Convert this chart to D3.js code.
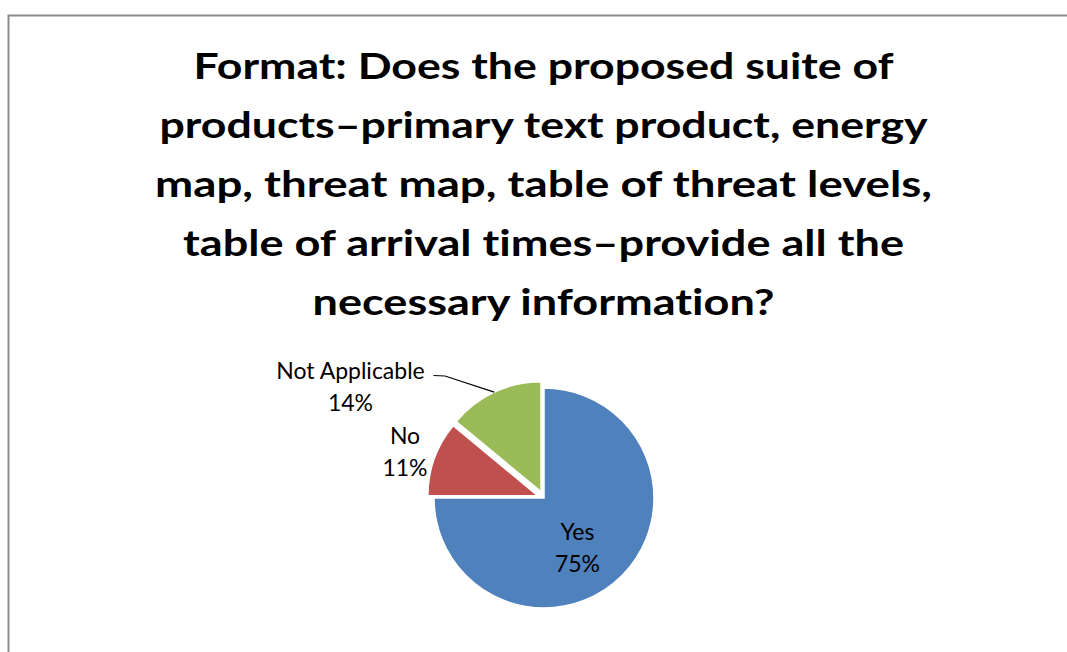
<!DOCTYPE html>
<html>
<head>
<meta charset="utf-8">
<script src="https://cdn.jsdelivr.net/npm/d3@7"></script>
<style>
  html, body { margin: 0; padding: 0; background: #ffffff; }
  svg { display: block; }
  text { font-variant-ligatures: none; }
</style>
</head>
<body>
<svg id="chart" width="1067" height="652"></svg>
<script>
// Survey responses (percent of respondents)
const categories = ["Yes", "No", "Not Applicable"];
const values = [75, 11, 14];
const sliceColors = ["#4F81BD", "#C0504D", "#9BBB59"];
const titleLines = [
  "Format: Does the proposed suite of",
  "products\u2013primary text product, energy",
  "map, threat map, table of threat levels,",
  "table of arrival times\u2013provide all the",
  "necessary information?"
];

const W = 1067, H = 652;
const svg = d3.select("#chart");

// Chart area frame (top and left edges visible)
svg.append("path")
  .attr("d", `M${W},15.5 H8.5 V${H}`)
  .attr("fill", "none")
  .attr("stroke", "#8c8c8c")
  .attr("stroke-width", 2);

// Title
const titleWidths = [700, 768, 777, 721, 462];
const titleG = svg.append("g")
  .attr("font-family", "Lato, 'Open Sans', sans-serif")
  .attr("font-weight", "bold")
  .attr("font-size", 37)
  .attr("fill", "#000");
titleG.selectAll("text")
  .data(titleLines)
  .join("text")
  .attr("x", 543.5)
  .attr("y", (d, i) => 78.5 + i * 59.2)
  .attr("text-anchor", "middle")
  .attr("textLength", (d, i) => titleWidths[i])
  .attr("lengthAdjust", "spacingAndGlyphs")
  .text(d => d);

// Pie
const cx = 544, cy = 498, radius = 110;
const explode = [0, 6.5, 7];

const data = categories.map((c, i) => ({ category: c, value: values[i], color: sliceColors[i], explode: explode[i] }));
const pie = d3.pie().value(d => d.value).sort(null).startAngle(0).endAngle(2 * Math.PI);
const arcs = pie(data);
const arc = d3.arc().innerRadius(0).outerRadius(radius);

function offsetOf(a) {
  const mid = (a.startAngle + a.endAngle) / 2;
  return [Math.sin(mid) * a.data.explode, -Math.cos(mid) * a.data.explode];
}

const pieG = svg.append("g").attr("transform", `translate(${cx},${cy})`);
pieG.selectAll("path")
  .data(arcs)
  .join("path")
  .attr("transform", d => { const o = offsetOf(d); return `translate(${o[0]},${o[1]})`; })
  .attr("d", arc)
  .attr("fill", d => d.data.color)
  .attr("stroke", "#ffffff")
  .attr("stroke-width", 1.5)
  .attr("stroke-linejoin", "miter");

// Data labels: category name and percentage
const fmtPct = v => `${v}%`;
const labelPos = {
  "Yes": [577.5, 540],
  "No": [405, 444],
  "Not Applicable": [350.5, 379]
};
const labelG = svg.append("g")
  .attr("font-family", "Lato, 'Open Sans', sans-serif")
  .attr("font-size", 23)
  .attr("fill", "#000")
  .attr("text-anchor", "middle");
arcs.forEach(a => {
  const p = labelPos[a.data.category];
  const t = labelG.append("text").attr("x", p[0]).attr("y", p[1]);
  t.append("tspan").attr("x", p[0]).attr("dy", 0).text(a.data.category);
  t.append("tspan").attr("x", p[0]).attr("dy", 32).text(fmtPct(a.data.value));
});

// Leader line from the "Not Applicable" label to its slice
const na = arcs[2];
const naOff = offsetOf(na);
const naMid = (na.startAngle + na.endAngle) / 2;
const endX = cx + naOff[0] + Math.sin(naMid) * radius;
const endY = cy + naOff[1] - Math.cos(naMid) * radius;
svg.append("path")
  .attr("d", `M433.5,375.5 L445,376 L${endX},${endY}`)
  .attr("fill", "none")
  .attr("stroke", "#000")
  .attr("stroke-width", 1.2);
</script>
</body>
</html>
